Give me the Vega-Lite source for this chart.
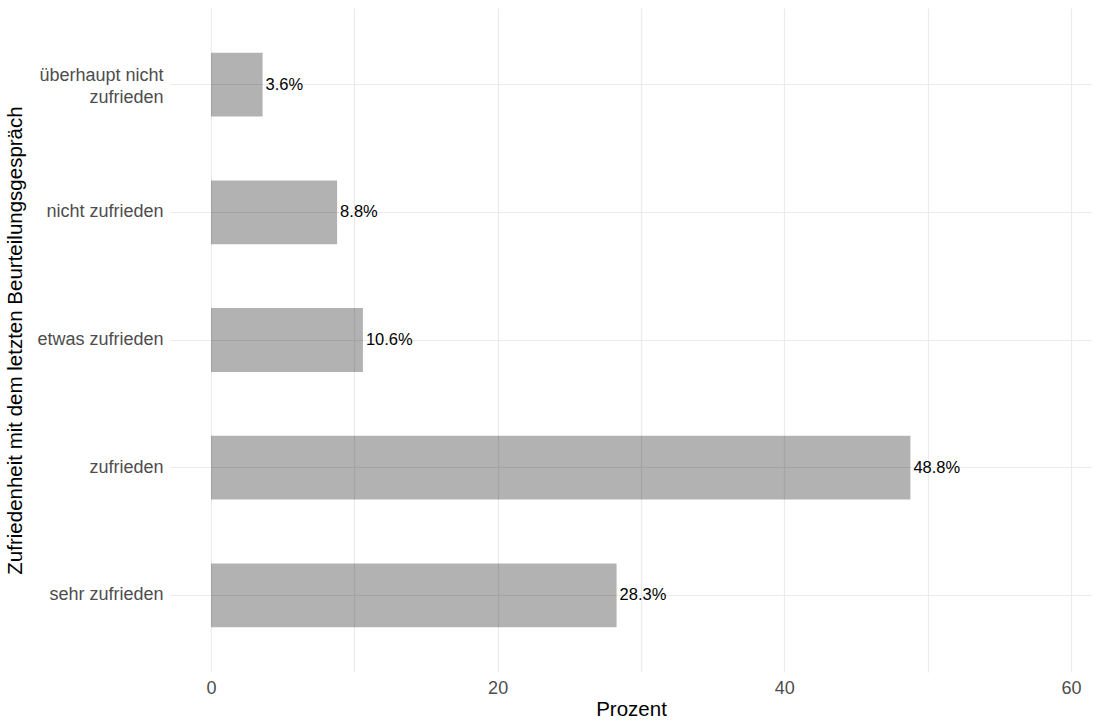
{
  "$schema": "https://vega.github.io/schema/vega-lite/v6.json",
  "autosize": "none",
  "width": 922,
  "height": 664,
  "padding": {"left": 170, "top": 8, "right": 8, "bottom": 54},
  "background": "white",
  "config": {
    "font": "Liberation Sans",
    "view": {"stroke": null}
  },
  "data": {
    "values": [
      {"kategorie": "überhaupt nicht\u00a0\u00a0|zufrieden", "prozent": 3.6, "label": "3.6%"},
      {"kategorie": "nicht zufrieden", "prozent": 8.8, "label": "8.8%"},
      {"kategorie": "etwas zufrieden", "prozent": 10.6, "label": "10.6%"},
      {"kategorie": "zufrieden", "prozent": 48.8, "label": "48.8%"},
      {"kategorie": "sehr zufrieden", "prozent": 28.3, "label": "28.3%"}
    ]
  },
  "encoding": {
    "y": {
      "field": "kategorie",
      "type": "nominal",
      "sort": null,
      "scale": {"paddingInner": 0.5, "paddingOuter": 0.35},
      "title": "Zufriedenheit mit dem letzten Beurteilungsgespräch",
      "axis": {
        "domain": false,
        "ticks": false,
        "grid": true,
        "bandPosition": 0.5,
        "gridColor": "#ebebeb",
        "gridWidth": 1.2,
        "labelExpr": "split(datum.label, '|')",
        "labelOffset": {"condition": {"test": "indexof(datum.value, '|') >= 0", "value": -9}, "value": 0},
        "labelFontSize": 18,
        "labelColor": "#4d4d4d",
        "labelPadding": 7,
        "labelLineHeight": 22,
        "titleFontSize": 20.5,
        "titleFontWeight": "normal",
        "titleColor": "#000000",
        "titlePadding": 11
      }
    },
    "x": {
      "field": "prozent",
      "type": "quantitative",
      "scale": {"domain": [-2.86, 61.47], "nice": false, "zero": false},
      "title": "Prozent",
      "axis": {
        "values": [0, 10, 20, 30, 40, 50, 60],
        "labelExpr": "datum.value % 20 === 0 ? datum.label : ''",
        "domain": false,
        "ticks": false,
        "grid": true,
        "gridColor": "#ebebeb",
        "gridWidth": 1.2,
        "labelFontSize": 18,
        "labelColor": "#4d4d4d",
        "labelPadding": 7,
        "titleFontSize": 20.5,
        "titleFontWeight": "normal",
        "titleColor": "#000000",
        "titlePadding": 2
      }
    }
  },
  "layer": [
    {
      "mark": {"type": "bar", "color": "#000000", "opacity": 0.3},
      "encoding": {
        "x2": {"datum": 0}
      }
    },
    {
      "mark": {"type": "text", "align": "left", "baseline": "middle", "dx": 3, "fontSize": 16.5, "color": "#000000"},
      "encoding": {
        "text": {"field": "label"}
      }
    }
  ]
}
